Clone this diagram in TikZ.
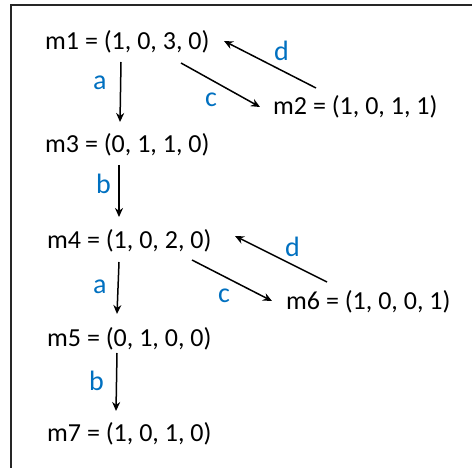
\documentclass[tikz,border=0pt]{standalone}
\usepackage{fontspec}
\setmainfont{Carlito}
\definecolor{lblBlue}{HTML}{0070C0}
\definecolor{frameInk}{HTML}{262626}
\usetikzlibrary{arrows.meta,calc}

\begin{document}
\begin{tikzpicture}[
  x=1pt,y=-1pt,
  font=\fontsize{26}{30}\selectfont,
  marking/.style={inner sep=0pt,anchor=base west},
  lbl/.style={marking,text=lblBlue,font=\fontsize{28}{32}\selectfont},
  arr/.style={-{Stealth[length=9pt,width=8pt]},line width=1.5pt,black}
]
\useasboundingbox (0,0) rectangle (472,468);
\draw[frameInk,line width=1.4pt] (472,5) -- (11,5) -- (11,468);
% markings
\node[marking] (m1) at (45,50)  {m1 = (1, 0, 3, 0)};
\node[marking] (m2) at (273,115) {m2 = (1, 0, 1, 1)};
\node[marking] (m3) at (45,153) {m3 = (0, 1, 1, 0)};
\node[marking] (m4) at (47,249) {m4 = (1, 0, 2, 0)};
\node[marking] (m6) at (286,310) {m6 = (1, 0, 0, 1)};
\node[marking] (m5) at (47,346) {m5 = (0, 1, 0, 0)};
\node[marking] (m7) at (47,441) {m7 = (1, 0, 1, 0)};
% transitions
\draw[arr] ([shift={(76,12)}]m1.base west) -- ([shift={(75,-31)}]m3.base west);
\draw[arr] ([shift={(136,13)}]m1.base west) -- ([shift={(-13,-8)}]m2.base west);
\draw[arr] ([shift={(43,-27)}]m2.base west) -- ([shift={(179,-9)}]m1.base west);
\draw[arr] ([shift={(74,12)}]m3.base west) -- ([shift={(72,-32)}]m4.base west);
\draw[arr] ([shift={(72,13)}]m4.base west) -- ([shift={(70,-32)}]m5.base west);
\draw[arr] ([shift={(145,11)}]m4.base west) -- ([shift={(-14,-9)}]m6.base west);
\draw[arr] ([shift={(41,-28)}]m6.base west) -- ([shift={(188,-13)}]m4.base west);
\draw[arr] ([shift={(70,7)}]m5.base west) -- ([shift={(69,-30)}]m7.base west);
% labels
\node[lbl] (la1) at (93,90)  {a};
\node[lbl] (lc1) at (205,107) {c};
\node[lbl] (ld1) at (274,61) {d};
\node[lbl] (lb1) at (96,194) {b};
\node[lbl] (la2) at (93,294) {a};
\node[lbl] (lc2) at (218,303) {c};
\node[lbl] (ld2) at (285,257) {d};
\node[lbl] (lb2) at (89,390) {b};
\end{tikzpicture}
\end{document}
